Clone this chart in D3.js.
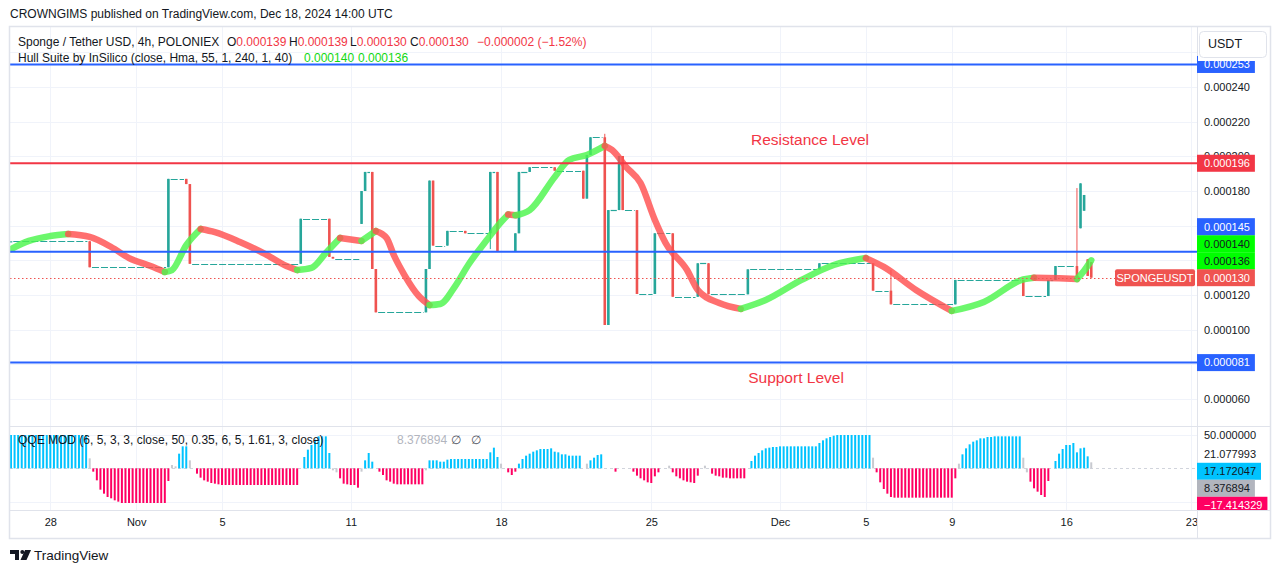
<!DOCTYPE html>
<html>
<head>
<meta charset="utf-8">
<title>SPONGEUSDT 4h</title>
<script src="https://cdn.jsdelivr.net/npm/d3@7"></script>
<style>
  body { margin: 0; background: #fff; }
  svg { display: block; font-family: "Liberation Sans", Arial, sans-serif; }
</style>
</head>
<body>
<svg id="chart"></svg>
<script>
// 4h bars, bar 0 = 2024-10-26 04:00 UTC (a few bars missing around Dec 10-12).
// Prices are kept in millionths of USDT.
var tickBars = [11, 35, 59, 95, 137, 179, 215, 239, 263, 295, 330];
var tickLabels = ["28", "Nov", "5", "11", "18", "25", "Dec", "5", "9", "16", "23"];
var gridTicks = [60, 80, 100, 120, 140, 160, 180, 200, 220, 240, 260];
var priceTicks = [60, 80, 100, 120, 140, 160, 180, 200, 220, 240];

// bars where price actually moved; in between the price stays flat
var candleBar   = [0, 22, 44, 49, 50, 81, 89, 90, 98, 99, 101, 102, 116, 117, 118, 122, 127, 134, 136, 141, 142, 145, 152, 160, 161, 162, 166, 167, 170, 171, 175, 180, 185, 192, 195, 206, 226, 241, 246, 264, 283, 290, 292, 298, 299, 300, 301, 302];
var candleOpen  = [151, 151, 136, 187, 184, 138, 164, 142, 161, 180, 191, 135, 110, 135, 186, 148.5, 157, 155.6, 191, 145.4, 155.6, 191, 193.7, 191.7, 175.6, 200.8, 211, 102.7, 169, 200.2, 169, 120.6, 155.6, 119, 138.3, 120.4, 134.8, 138.3, 122.5, 114.6, 128.7, 119.4, 128.7, 136.7, 158.5, 168.6, 140.6, 139];
var candleHigh  = [151, 151, 187, 187, 184, 164, 164, 142, 180, 191, 191, 135, 135, 186, 186, 157, 157, 191, 191, 155.6, 191, 193.7, 193.7, 191.7, 200.8, 211, 213, 169, 200.2, 200.2, 169, 155.6, 155.6, 138.3, 138.3, 134.8, 138.3, 138.3, 134.4, 128.7, 128.7, 128.7, 136.7, 181.7, 184.4, 177.7, 140.6, 139];
var candleLow   = [151, 136, 136, 184, 138, 138, 142, 141, 161, 180, 135, 110, 110, 135, 148.5, 148.5, 155.6, 146.5, 145.4, 145.4, 155.6, 191, 191.7, 175.6, 175.6, 200.8, 102.7, 102.7, 169, 169, 120.6, 120.6, 119, 119, 120.4, 120.4, 134.8, 122.5, 114.6, 114.6, 119.4, 119.4, 128.7, 130, 158.5, 168.6, 131, 130];
var candleClose = [151, 136, 187, 184, 138, 164, 142, 141, 180, 191, 135, 110, 135, 186, 148.5, 157, 155.6, 191, 145.4, 155.6, 191, 193.7, 191.7, 175.6, 200.8, 211, 102.7, 169, 200.2, 169, 120.6, 155.6, 119, 138.3, 120.4, 134.8, 138.3, 122.5, 114.6, 128.7, 119.4, 128.7, 136.7, 130, 184.4, 177.7, 131, 130];

// Hull Suite centre line
var hullBar = [0, 5, 11, 16, 22, 28, 33, 39, 43, 45, 49, 53, 57, 64, 71, 77, 80, 84, 88, 92, 98, 102, 105, 107, 110, 114, 117, 120, 124, 128, 133, 137, 139, 141, 145, 152, 156, 161, 166, 168, 172, 176, 180, 183, 189, 192, 198, 204, 211, 221, 230, 239, 244, 253, 263, 272, 283, 286, 293, 298, 300, 302];
var hullVal = [146.5, 151.2, 154, 155.2, 153.5, 147.7, 141.3, 136.7, 133.3, 134.4, 148.8, 158.1, 156.3, 150.6, 143.7, 136.7, 134.4, 135.6, 144.2, 152.9, 151.2, 156.9, 152.9, 143.1, 131.5, 119.4, 114.2, 114.8, 124.6, 137.9, 151.7, 162.1, 166.5, 166, 169, 188.1, 197.9, 200.8, 206, 203.7, 193.8, 184.6, 163.3, 150, 134.4, 122.9, 115.4, 112, 117.1, 128.7, 137.3, 141.3, 136.2, 122.9, 110.8, 116, 129, 130, 129.6, 129.2, 134, 140];

// QQE MOD histogram, one value per bar
var qqeVal = [
  50, 50, 50, 50, 50, 50, 50, 50, 50, 50, 50, 50, 50, 50, 50, 50, 50, 50, 50, 50, 50, 50,
  15, -5, -18, -32, -38, -43, -45, -48, -50,
  -52, -52, -52, -52, -52, -52, -52, -52, -52, -52, -52, -52, -52,
  -19, 5, 3, 22, 33, 33, 12, 0,
  -8, -14, -18, -20, -22, -23, -24,
  -25, -25, -25, -25, -25, -25, -25, -25, -25, -25, -25, -25, -25, -25, -25, -25, -25, -25, -25, -25, -25, -25,
  0, 17, 28, 35, 43, 48, 48, 48, 23, -3, -6,
  -15, -23, -24, -25, -25, -29, -5, 12, 23, 10, 0,
  -5, -10, -18, -20, -23,
  -24, -24, -24, -24, -24, -24, -24, -24,
  -3, 12, 12, 12, 10, 10, 13,
  14, 14, 14, 14, 14, 14, 14, 14, 14, 14, 14,
  24, 31, 17, 7, 0, -6, -10, -5,
  7, 14, 19, 22, 25, 27, 29, 29, 29, 30, 25, 24, 21, 21, 19, 19, 19, 19,
  0, 7, 12, 16, 20, 21, 0, 0, 0, -5,
  0, 0, 0, 0,
  -5, -11, -15, -18, -21, -22, -12, -6, 0, 0,
  4, -6, -12, -15, -18, -20, -21, -22, -11, 0, 4, 0,
  -8, -11, -12, -14, -14, -15, -15, -15, -15, -15, 0,
  11, 19, 23, 27, 30, 31, 32, 32,
  33, 33, 33, 33, 33, 33, 33, 33, 33, 33, 33,
  38, 42, 45, 47, 49,
  50, 50, 50, 50, 50, 50, 50, 50, 50, 50,
  16, -6, -21, -31, -38, -43,
  -44, -44, -44, -44, -44, -44, -44, -44, -44, -44, -44, -44, -44, -44, -44, -44, -44,
  -15, 7, 21, 30, 36, 40, 42, 45, 45, 47, 47,
  48, 48, 48, 48, 48, 48, 48, 48,
  16, -6, -20, -30, -35, -40, -43, -19, 0,
  11, 22, 29, 35, 35, 38, 24, 30, 31, 18, 9
];
var qqeGray = [22, 45, 46, 50, 90, 91, 98, 116, 137, 161, 184, 194, 241, 265, 283, 284, 302];

var levelVals = [253, 196, 145, 81];
var levelColors = ["#2962ff", "#f23645", "#2962ff", "#2962ff"];
var lastPrice = 130;

var priceLabelVals = [253, 196, 145, 140, 136, 130, 81];
var priceLabelFill = ["#2962ff", "#f23645", "#2962ff", "#00ff00", "#00ff00", "#ef5350", "#2962ff"];
var priceLabelInk  = ["#fff", "#fff", "#fff", "#131722", "#131722", "#fff", "#fff"];

var qqeLabelVals = [50, 21.077993, 17.172047, 8.376894, -17.414329];
var qqeLabelFill = [null, null, "#00c3ff", "#b2b5be", "#ff0062"];
var qqeLabelInk  = ["#131722", "#131722", "#131722", "#131722", "#fff"];

var ohlcKeys = ["O", "H", "L", "C"];
var ohlcVals = [139, 139, 130, 130];
var hullLegendVals = [140, 136];

// layout
var width = 1281, height = 573;
var left = 10, right = 1197, axisEdge = 1270;
var chartTop = 27, paneBottom = 426, qqeBottom = 510, chartBottom = 538;

var x = d3.scaleLinear().domain([0, 330]).range([11, 11 + 330 * 3.577]);
var y = d3.scaleLinear().domain([60, 240]).range([399, 87]);
var yq = d3.scaleLinear().domain([-52, 50]).range([503, 435]);

var fmtPrice = function (v) { return (v / 1e6).toFixed(6); };
var fmtQqe = function (v) { return v.toFixed(6).replace("-", "\u2212"); };

var svg = d3.select("#chart").attr("width", width).attr("height", height);
var defs = svg.append("defs");
function clip(id, x0, y0, x1, y1) {
  defs.append("clipPath").attr("id", id).append("rect")
    .attr("x", x0).attr("y", y0).attr("width", x1 - x0).attr("height", y1 - y0);
}
clip("clipMain", left, chartTop, right, paneBottom);
clip("clipQqe", left, paneBottom, right, qqeBottom);
clip("clipTime", left, qqeBottom, right, chartBottom);
clip("clipAxis", right, chartTop, axisEdge, paneBottom);
clip("clipQaxis", right, paneBottom, axisEdge, qqeBottom);

svg.append("text").attr("x", 10).attr("y", 18).attr("font-size", 12).attr("fill", "#131722")
  .text("CROWNGIMS published on TradingView.com, Dec 18, 2024 14:00 UTC");

// grid
var grid = svg.append("g").attr("stroke", "#f0f3fa").attr("stroke-width", 1);
grid.selectAll(".vgrid").data(tickBars).join("line").attr("class", "vgrid")
  .attr("x1", function (d) { return Math.round(x(d)) + 0.5; })
  .attr("x2", function (d) { return Math.round(x(d)) + 0.5; })
  .attr("y1", chartTop).attr("y2", qqeBottom)
  .attr("clip-path", "url(#clipMain)");
grid.selectAll(".vgrid2").data(tickBars).join("line").attr("class", "vgrid2")
  .attr("x1", function (d) { return Math.round(x(d)) + 0.5; })
  .attr("x2", function (d) { return Math.round(x(d)) + 0.5; })
  .attr("y1", paneBottom).attr("y2", qqeBottom)
  .attr("clip-path", "url(#clipQqe)");
grid.selectAll(".hgrid").data(gridTicks).join("line").attr("class", "hgrid")
  .attr("x1", left).attr("x2", right)
  .attr("y1", function (d) { return Math.round(y(d)) + 0.5; })
  .attr("y2", function (d) { return Math.round(y(d)) + 0.5; })
  .attr("clip-path", "url(#clipMain)");
grid.selectAll(".qgrid").data([50, -50]).join("line").attr("class", "qgrid")
  .attr("x1", left).attr("x2", right)
  .attr("y1", function (d) { return Math.round(yq(d)) + 0.5; })
  .attr("y2", function (d) { return Math.round(yq(d)) + 0.5; });

// candles
var candles = candleBar.map(function (b, i) {
  return { bar: b, o: candleOpen[i], h: candleHigh[i], l: candleLow[i], c: candleClose[i] };
});
var flats = [];
candles.forEach(function (d, i) {
  if (i + 1 < candles.length && candles[i + 1].bar - d.bar > 1)
    flats.push({ from: d.bar + 1, to: candles[i + 1].bar - 1, v: d.c });
});
var main = svg.append("g").attr("clip-path", "url(#clipMain)");
main.selectAll(".flat").data(flats).join("line").attr("class", "flat")
  .attr("x1", function (d) { return x(d.from) - 1.3; })
  .attr("x2", function (d) { return x(d.to) + 1.3; })
  .attr("y1", function (d) { return Math.round(y(d.v)) + 0.5; })
  .attr("y2", function (d) { return Math.round(y(d.v)) + 0.5; })
  .attr("stroke", "#26a69a").attr("stroke-width", 1.2).attr("stroke-dasharray", "7,2");

var col = function (d) { return d.c >= d.o ? "#26a69a" : "#ef5350"; };
main.selectAll(".wick").data(candles).join("line").attr("class", "wick")
  .attr("x1", function (d) { return x(d.bar); }).attr("x2", function (d) { return x(d.bar); })
  .attr("y1", function (d) { return y(d.h); }).attr("y2", function (d) { return y(d.l); })
  .attr("stroke", col).attr("stroke-width", 1);
main.selectAll(".body").data(candles).join("rect").attr("class", "body")
  .attr("x", function (d) { return x(d.bar) - 1.3; })
  .attr("width", 2.6)
  .attr("y", function (d) { return y(Math.max(d.o, d.c)); })
  .attr("height", function (d) { return Math.max(1.2, Math.abs(y(d.o) - y(d.c))); })
  .attr("fill", col);

// Hull band, green while rising and red while falling
var hullPts = hullBar.map(function (b, i) { return [b, hullVal[i]]; });
var segs = [];
for (var i = 1; i < hullPts.length; i++) {
  var up = hullPts[i][1] >= hullPts[i - 1][1];
  var last = segs[segs.length - 1];
  if (last && last.up === up) last.pts.push(hullPts[i]);
  else segs.push({ up: up, pts: [hullPts[i - 1], hullPts[i]] });
}
var hullLine = d3.line().x(function (d) { return x(d[0]); }).y(function (d) { return y(d[1]); })
  .curve(d3.curveMonotoneX);
main.selectAll(".hull").data(segs).join("path").attr("class", "hull")
  .attr("d", function (d) { return hullLine(d.pts); })
  .attr("fill", "none")
  .attr("stroke", function (d) { return d.up ? "#4cf54c" : "#ff4f4f"; })
  .attr("stroke-opacity", 0.82).attr("stroke-width", 6.5).attr("stroke-linecap", "round");

// horizontal drawings
main.selectAll(".level").data(levelVals).join("line").attr("class", "level")
  .attr("x1", left).attr("x2", right)
  .attr("y1", function (d) { return y(d); }).attr("y2", function (d) { return y(d); })
  .attr("stroke", function (d, i) { return levelColors[i]; }).attr("stroke-width", 2);
main.append("line").attr("x1", left).attr("x2", 1115)
  .attr("y1", Math.round(y(lastPrice)) + 0.5).attr("y2", Math.round(y(lastPrice)) + 0.5)
  .attr("stroke", "#ef5350").attr("stroke-width", 1).attr("stroke-dasharray", "1.5,2.5");

main.append("text").attr("x", 810).attr("y", 145).attr("text-anchor", "middle")
  .attr("font-size", 15.5).attr("fill", "#f23645").text("Resistance Level");
main.append("text").attr("x", 796).attr("y", 383).attr("text-anchor", "middle")
  .attr("font-size", 15.5).attr("fill", "#f23645").text("Support Level");

// QQE pane
var qg = svg.append("g").attr("clip-path", "url(#clipQqe)");
qg.append("line").attr("x1", left).attr("x2", right)
  .attr("y1", Math.round(yq(0)) + 0.5).attr("y2", Math.round(yq(0)) + 0.5)
  .attr("stroke", "#d1d4dc").attr("stroke-dasharray", "3,3");
var qqeData = qqeVal.map(function (v, i) { return { i: i, v: v }; }).filter(function (d) { return d.v !== 0; });
qg.selectAll(".qbar").data(qqeData).join("rect").attr("class", "qbar")
  .attr("x", function (d) { return x(d.i) - 1; }).attr("width", 2)
  .attr("y", function (d) { return Math.min(yq(d.v), yq(0)); })
  .attr("height", function (d) { return Math.abs(yq(d.v) - yq(0)); })
  .attr("fill", function (d) {
    if (qqeGray.indexOf(d.i) >= 0) return "#c8cad0";
    return d.v > 0 ? "#00c3ff" : "#ff0062";
  });

// frame
var frame = svg.append("g").attr("stroke", "#e0e3eb").attr("fill", "none");
frame.append("rect").attr("x", left - 0.5).attr("y", chartTop - 0.5)
  .attr("width", axisEdge - left + 1).attr("height", chartBottom - chartTop + 1).attr("stroke-width", 1.5);
frame.append("line").attr("x1", right + 0.5).attr("x2", right + 0.5).attr("y1", chartTop).attr("y2", chartBottom);
frame.append("line").attr("x1", left).attr("x2", axisEdge).attr("y1", paneBottom + 0.5).attr("y2", paneBottom + 0.5);
frame.append("line").attr("x1", left).attr("x2", axisEdge).attr("y1", qqeBottom + 0.5).attr("y2", qqeBottom + 0.5);

// axes
var xAxis = d3.axisBottom(x).tickValues(tickBars)
  .tickFormat(function (d, i) { return tickLabels[i]; }).tickSize(0).tickPadding(8);
var gx = svg.append("g").attr("clip-path", "url(#clipTime)")
  .append("g").attr("transform", "translate(0," + qqeBottom + ")").call(xAxis);
gx.select(".domain").remove();
gx.attr("font-family", null).attr("font-size", 11);
gx.selectAll("text").attr("fill", "#131722");

var yAxis = d3.axisRight(y).tickValues(priceTicks).tickFormat(fmtPrice).tickSize(0).tickPadding(7);
var gy = svg.append("g").attr("clip-path", "url(#clipAxis)")
  .append("g").attr("transform", "translate(" + right + ",0)").call(yAxis);
gy.select(".domain").remove();
gy.attr("font-family", null).attr("font-size", 11);
gy.selectAll("text").attr("fill", "#131722");

// price scale labels, pushed upwards when they collide
var plabels = priceLabelVals.map(function (v, i) {
  return { v: v, fill: priceLabelFill[i], ink: priceLabelInk[i], yc: y(v) };
}).sort(function (a, b) { return a.v - b.v; });
for (var k = 1; k < plabels.length; k++)
  plabels[k].yc = Math.min(plabels[k].yc, plabels[k - 1].yc - 17);

var pl = svg.append("g").attr("clip-path", "url(#clipAxis)").attr("font-size", 11);
plabels.forEach(function (d) {
  var g = pl.append("g");
  var r = g.append("rect").attr("x", right).attr("y", d.yc - 8.5).attr("height", 17).attr("fill", d.fill);
  var t = g.append("text").attr("x", right + 7).attr("y", d.yc).attr("dy", "0.35em")
    .attr("fill", d.ink).text(fmtPrice(d.v));
  r.attr("width", t.node().getComputedTextLength() + 12);
});

// symbol tag on the last price
var tag = svg.append("g").attr("font-size", 11);
tag.append("rect").attr("x", 1115).attr("y", y(lastPrice) - 8.5).attr("width", 80).attr("height", 17)
  .attr("rx", 2).attr("fill", "#ef5350");
tag.append("text").attr("x", 1155).attr("y", y(lastPrice)).attr("dy", "0.35em").attr("text-anchor", "middle")
  .attr("fill", "#fff").text("SPONGEUSDT");

// QQE scale labels, pushed downwards when they collide
var qlabels = qqeLabelVals.map(function (v, i) {
  return { v: v, fill: qqeLabelFill[i], ink: qqeLabelInk[i], yc: yq(v) };
});
for (var m = 1; m < qlabels.length; m++)
  qlabels[m].yc = Math.max(qlabels[m].yc, qlabels[m - 1].yc + 17);
var ql = svg.append("g").attr("clip-path", "url(#clipQaxis)").attr("font-size", 11);
qlabels.forEach(function (d) {
  var g = ql.append("g");
  var r = g.append("rect").attr("x", right).attr("y", d.yc - 8.5).attr("height", 17)
    .attr("fill", d.fill || "none");
  var t = g.append("text").attr("x", right + 7).attr("y", d.yc).attr("dy", "0.35em")
    .attr("fill", d.ink).text(fmtQqe(d.v));
  r.attr("width", t.node().getComputedTextLength() + 12);
});

// currency button
svg.append("rect").attr("x", right + 1).attr("y", chartTop + 1).attr("width", axisEdge - right - 2).attr("height", 33)
  .attr("fill", "#fff");
svg.append("rect").attr("x", 1199.5).attr("y", 31.5).attr("width", 67).attr("height", 26).attr("rx", 4)
  .attr("fill", "#fff").attr("stroke", "#e0e3eb");
svg.append("text").attr("x", 1225).attr("y", 44).attr("dy", "0.35em").attr("text-anchor", "middle")
  .attr("font-size", 12.5).attr("fill", "#131722").text("USDT");

// legends
var leg = svg.append("g").attr("font-size", 12).attr("fill", "#131722");
leg.append("text").attr("x", 18).attr("y", 46).text("Sponge / Tether USD, 4h, POLONIEX");
var ohlcX = [227, 289, 350, 410];
ohlcKeys.forEach(function (k, i) {
  var t = leg.append("text").attr("x", ohlcX[i]).attr("y", 46);
  t.append("tspan").text(k);
  t.append("tspan").attr("fill", "#f23645").text(fmtPrice(ohlcVals[i]));
});
leg.append("text").attr("x", 477).attr("y", 46).attr("fill", "#f23645").text("\u22120.000002 (\u22121.52%)");
leg.append("text").attr("x", 18).attr("y", 62).text("Hull Suite by InSilico (close, Hma, 55, 1, 240, 1, 40)");
leg.selectAll(".hv").data(hullLegendVals).join("text").attr("class", "hv")
  .attr("x", function (d, i) { return 304 + i * 54; }).attr("y", 62)
  .attr("fill", "#12d812").text(fmtPrice);
leg.append("text").attr("x", 18).attr("y", 444).text("QQE MOD (6, 5, 3, 3, close, 50, 0.35, 6, 5, 1.61, 3, close)");
leg.append("text").attr("x", 397).attr("y", 444).attr("fill", "#b2b5be").text(qqeLabelVals[3].toFixed(6));
leg.append("text").attr("x", 451).attr("y", 444).attr("fill", "#50535e").text("\u2205");
leg.append("text").attr("x", 471).attr("y", 444).attr("fill", "#50535e").text("\u2205");

// TradingView mark
var logo = svg.append("g").attr("fill", "#131722");
logo.append("path").attr("d", "M10,550 H19 V560 H15 V554 H10 Z");
logo.append("circle").attr("cx", 22.3).attr("cy", 552).attr("r", 2);
logo.append("path").attr("d", "M25,550 H31 L26.5,560 H20.5 Z");
svg.append("text").attr("x", 34).attr("y", 560).attr("font-size", 13.5).attr("fill", "#131722").text("TradingView");
</script>
</body>
</html>
